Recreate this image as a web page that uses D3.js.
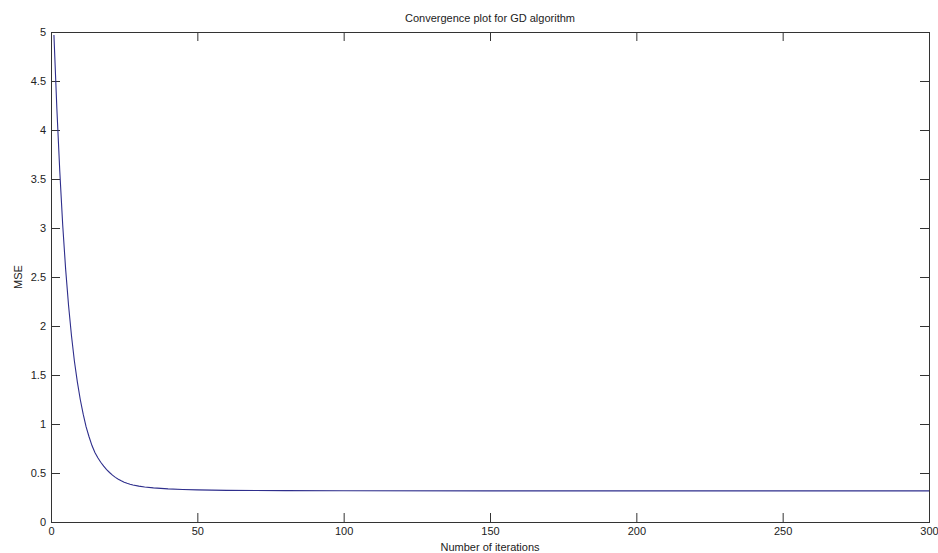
<!DOCTYPE html>
<html>
<head>
<meta charset="utf-8">
<script src="https://cdn.jsdelivr.net/npm/d3@7"></script>
<style>
  body { margin: 0; background: #fff; }
  text { font-family: "Liberation Sans", Arial, sans-serif; fill: #222; }
</style>
</head>
<body>
<svg width="938" height="553"></svg>
<script>
// iterations and the MSE
var iterations = [1, 2, 3, 4, 5, 6, 7, 8, 9, 10, 11, 12, 13, 14, 15, 16, 17, 18, 19, 20,
    21, 22, 23, 24, 25, 26, 27, 28, 30, 32, 35, 40, 45, 50, 55, 60, 70, 80, 100, 150, 200, 250, 300];
var mse = [4.97, 4.22, 3.58, 3.03, 2.58, 2.21, 1.9, 1.64, 1.43, 1.25, 1.1, 0.97, 0.87, 0.78, 0.71, 0.655, 0.61, 0.57, 0.535, 0.505,
    0.478, 0.455, 0.436, 0.42, 0.406, 0.395, 0.386, 0.378, 0.366, 0.357, 0.348, 0.338, 0.332, 0.328, 0.325, 0.323, 0.321, 0.32, 0.319, 0.318, 0.318, 0.318, 0.318];
var xTicks = [0, 50, 100, 150, 200, 250, 300];
var yTicks = [0, 0.5, 1, 1.5, 2, 2.5, 3, 3.5, 4, 4.5, 5];

var data = iterations.map((d, i) => ({x: d, y: mse[i]}));

var svg = d3.select('svg');
var margin = {top: 32, right: 9, bottom: 31, left: 51};
var width = 938 - margin.left - margin.right;
var height = 553 - margin.top - margin.bottom;

var g = svg.append('g')
    .attr('transform', 'translate(' + margin.left + ',' + margin.top + ')');

var x = d3.scaleLinear().domain([0, 300]).range([0, width]);
var y = d3.scaleLinear().domain([0, 5]).range([height, 0]);

// inward ticks on all four sides, like a boxed matlab axes
function styleAxis(sel) {
    sel.select('.domain').remove();
    sel.selectAll('line').attr('stroke', '#333');
    sel.selectAll('text').attr('font-size', 11).attr('fill', '#2a2a2a');
}

g.append('g')
    .attr('transform', 'translate(0,' + height + ')')
    .call(d3.axisBottom(x).tickValues(xTicks).tickSize(-9).tickSizeOuter(0).tickPadding(5))
    .call(styleAxis);
g.append('g')
    .call(d3.axisTop(x).tickValues(xTicks).tickSize(-9).tickSizeOuter(0).tickFormat(''))
    .call(styleAxis);
g.append('g')
    .call(d3.axisLeft(y).tickValues(yTicks).tickSize(-9).tickSizeOuter(0).tickPadding(5)
        .tickFormat(d3.format('~g')))
    .call(styleAxis);
g.append('g')
    .attr('transform', 'translate(' + width + ',0)')
    .call(d3.axisRight(y).tickValues(yTicks).tickSize(-9).tickSizeOuter(0).tickFormat(''))
    .call(styleAxis);

g.append('rect')
    .attr('x', 0.5).attr('y', 0.5)
    .attr('width', width).attr('height', height)
    .attr('fill', 'none')
    .attr('stroke', '#333');

var line = d3.line()
    .x(d => x(d.x))
    .y(d => y(d.y));

g.append('path')
    .datum(data)
    .attr('fill', 'none')
    .attr('stroke', '#2e2e8c')
    .attr('stroke-width', 1.1)
    .attr('d', line);

// title and labels
g.append('text')
    .attr('x', width / 2).attr('y', -10)
    .attr('text-anchor', 'middle')
    .attr('font-size', 11)
    .text('Convergence plot for GD algorithm');

g.append('text')
    .attr('x', width / 2).attr('y', height + 29)
    .attr('text-anchor', 'middle')
    .attr('font-size', 11)
    .text('Number of iterations');

g.append('text')
    .attr('transform', 'translate(-29,' + (height / 2) + ') rotate(-90)')
    .attr('text-anchor', 'middle')
    .attr('font-size', 11)
    .text('MSE');
</script>
</body>
</html>
